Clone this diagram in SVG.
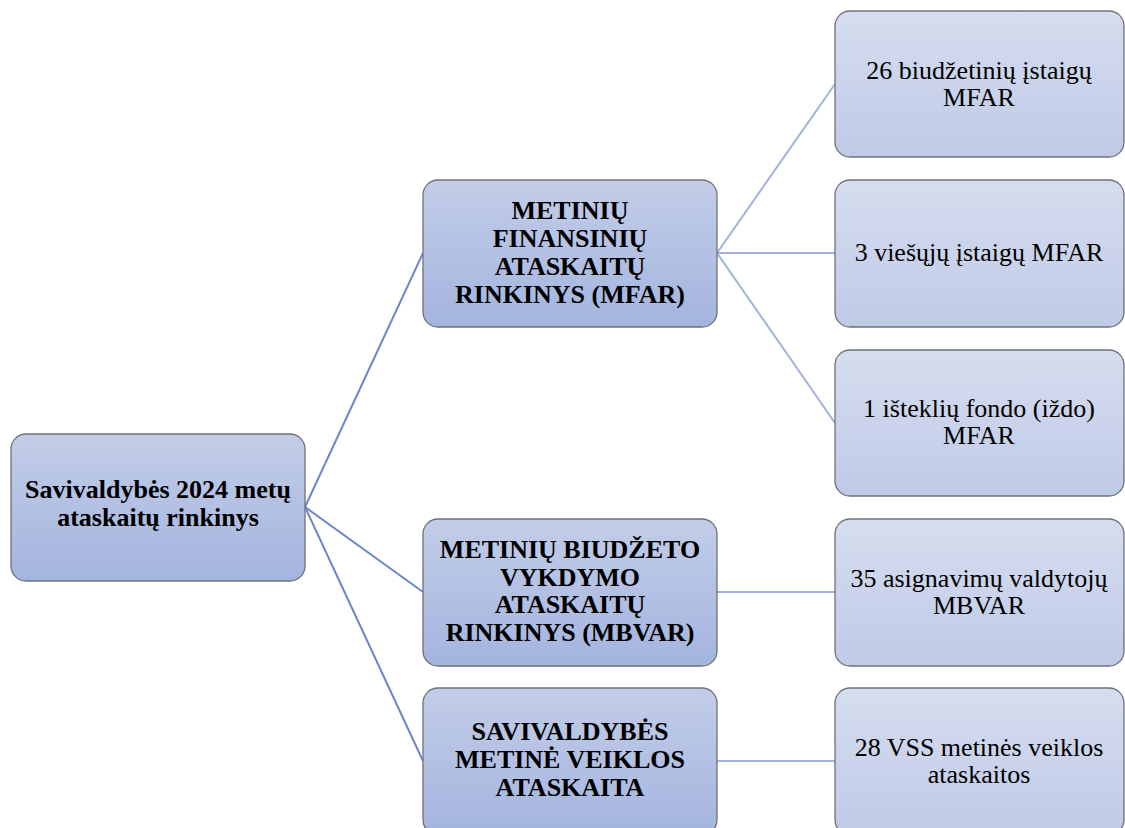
<svg xmlns="http://www.w3.org/2000/svg" width="1125" height="828" viewBox="0 0 1125 828">
<defs>
<linearGradient id="gMid" x1="0" y1="0" x2="0" y2="1">
<stop offset="0" stop-color="#c3cde8"/>
<stop offset="1" stop-color="#a3b4de"/>
</linearGradient>
<linearGradient id="gLeaf" x1="0" y1="0" x2="0" y2="1">
<stop offset="0" stop-color="#d6ddef"/>
<stop offset="1" stop-color="#bfcae7"/>
</linearGradient>
<style>
.mid{fill:url(#gMid);stroke:#6e717a;stroke-width:1.3}
.leaf{fill:url(#gLeaf);stroke:#6e717a;stroke-width:1.3}
.tb{font-family:"Liberation Serif","Times New Roman","DejaVu Serif",serif;font-weight:bold;font-size:26px;fill:#000;text-anchor:middle}
.tn{font-family:"Liberation Serif","Times New Roman","DejaVu Serif",serif;font-size:26px;fill:#000;text-anchor:middle}
.c1{stroke:#6c86c9;stroke-width:2;fill:none}
.c2{stroke:#a2b2dc;stroke-width:2;fill:none}
</style>
</defs>
<rect width="1125" height="828" fill="#ffffff"/>
<g id="connectors">
<line class="c1" x1="305" y1="507" x2="423" y2="253"/>
<line class="c1" x1="305" y1="507" x2="423" y2="592"/>
<line class="c1" x1="305" y1="507" x2="423" y2="761"/>
<line class="c2" x1="717" y1="253" x2="835" y2="84"/>
<line class="c2" x1="717" y1="253" x2="835" y2="253"/>
<line class="c2" x1="717" y1="253" x2="835" y2="423"/>
<line class="c2" x1="717" y1="592" x2="835" y2="592"/>
<line class="c2" x1="717" y1="761" x2="835" y2="761"/>
</g>
<g id="root">
<rect class="mid" x="11" y="434" width="294" height="147" rx="15"/>
<text class="tb" x="158" y="498">Savivaldybės 2024 metų</text>
<text class="tb" x="158" y="526">ataskaitų rinkinys</text>
</g>
<g id="mfar">
<rect class="mid" x="423" y="180" width="294" height="147" rx="15"/>
<text class="tb" x="570" y="219">METINIŲ</text>
<text class="tb" x="570" y="247">FINANSINIŲ</text>
<text class="tb" x="570" y="275">ATASKAITŲ</text>
<text class="tb" x="570" y="303">RINKINYS (MFAR)</text>
</g>
<g id="mbvar">
<rect class="mid" x="423" y="519" width="294" height="147" rx="15"/>
<text class="tb" x="570" y="558">METINIŲ BIUDŽETO</text>
<text class="tb" x="570" y="586">VYKDYMO</text>
<text class="tb" x="570" y="613">ATASKAITŲ</text>
<text class="tb" x="570" y="641">RINKINYS (MBVAR)</text>
</g>
<g id="veikla">
<rect class="mid" x="423" y="688" width="294" height="147" rx="15"/>
<text class="tb" x="570" y="740">SAVIVALDYBĖS</text>
<text class="tb" x="570" y="768">METINĖ VEIKLOS</text>
<text class="tb" x="570" y="796">ATASKAITA</text>
</g>
<g id="leaf1">
<rect class="leaf" x="835" y="11" width="289" height="146" rx="15"/>
<text class="tn" x="979" y="79">26 biudžetinių įstaigų</text>
<text class="tn" x="979" y="106">MFAR</text>
</g>
<g id="leaf2">
<rect class="leaf" x="835" y="180" width="289" height="147" rx="15"/>
<text class="tn" x="979" y="261">3 viešųjų įstaigų MFAR</text>
</g>
<g id="leaf3">
<rect class="leaf" x="835" y="350" width="289" height="146" rx="15"/>
<text class="tn" x="979" y="417">1 išteklių fondo (iždo)</text>
<text class="tn" x="979" y="444">MFAR</text>
</g>
<g id="leaf4">
<rect class="leaf" x="835" y="519" width="289" height="147" rx="15"/>
<text class="tn" x="979" y="587">35 asignavimų valdytojų</text>
<text class="tn" x="979" y="614">MBVAR</text>
</g>
<g id="leaf5">
<rect class="leaf" x="835" y="688" width="289" height="147" rx="15"/>
<text class="tn" x="979" y="756">28 VSS metinės veiklos</text>
<text class="tn" x="979" y="783">ataskaitos</text>
</g>
</svg>
